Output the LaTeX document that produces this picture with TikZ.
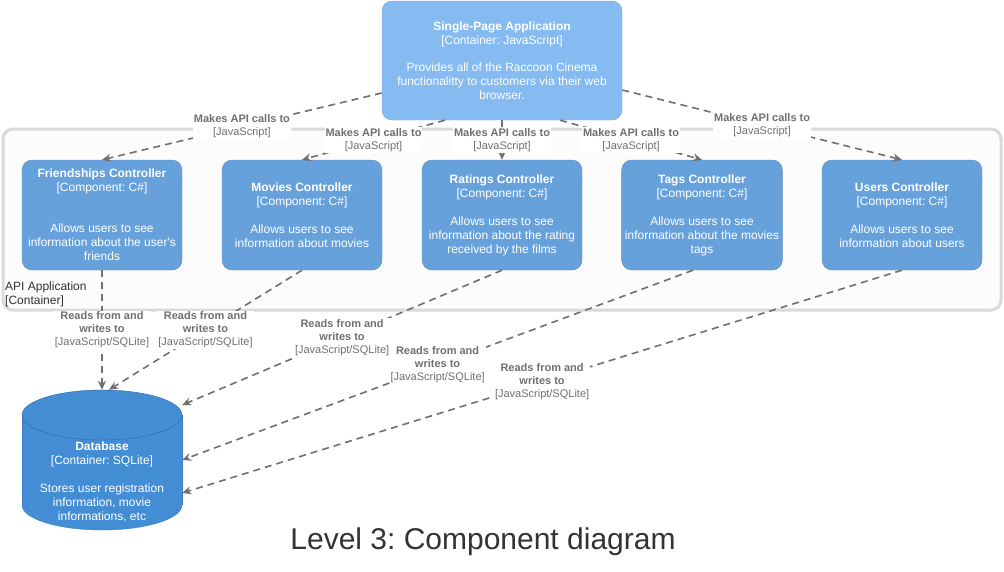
\documentclass[tikz,border=0pt]{standalone}
\usepackage{fontspec}
\setmainfont{Liberation Sans}
\usetikzlibrary{arrows.meta}
\frenchspacing
\definecolor{spafill}{HTML}{85BBF0}
\definecolor{spaline}{HTML}{78A8D8}
\definecolor{compfill}{HTML}{67A1DB}
\definecolor{compline}{HTML}{5A90C8}
\definecolor{dbfill}{HTML}{438DD5}
\definecolor{dbline}{HTML}{3C7FC0}
\definecolor{relgray}{HTML}{707070}
\definecolor{boundgray}{HTML}{DADADA}
\definecolor{titlegray}{HTML}{333333}
\tikzset{
  container/.style={draw=spaline, fill=spafill, rounded corners=10pt, text=white, align=center,
    minimum width=240pt, minimum height=119pt, font=\fontsize{12}{14}\selectfont},
  component/.style={draw=compline, fill=compfill, rounded corners=10pt, text=white, align=center,
    minimum width=160pt, minimum height=110pt, font=\fontsize{12}{14}\selectfont},
  rel/.style={draw=relgray, line width=1.6pt, dash pattern=on 7pt off 5pt,
    -{Stealth[length=9pt,width=8pt]}},
  rellabel/.style={fill=white, text=relgray, align=center, inner sep=1pt,
    font=\fontsize{11}{13}\selectfont},
}
\begin{document}
\begin{tikzpicture}[x=1pt,y=-1pt]
  \fill[white] (0,0) rectangle (1004,571);
  \useasboundingbox (0,0) rectangle (1004,571);

  %API APPLICATION BOUNDARY
  \node (api) at (502,219.5) [draw=boundgray, fill=white!98!gray, line width=3pt, rounded corners=10pt,
    minimum width=998pt, minimum height=181pt] {};
  \node (apilabel) at (5,282) [anchor=north west, align=left, inner sep=0pt, text=titlegray,
    font=\fontsize{12}{14}\selectfont] {API Application\\{[Container]}};

  %SINGLE-PAGE APPLICATION
  \node (spa) at (502,60.5) [container] {{\bfseries Single-Page Application}\\{[Container: JavaScript]}\\[13pt]
    Provides all of the Raccoon Cinema\\functionalitty to customers via their web\\browser.};

  %COMPONENTS
  \node (friend) at (102,215) [component] {{\bfseries Friendships Controller}\\{[Component: C\#]}\\[27pt]
    Allows users to see\\information about the user\textquotesingle s\\friends};
  \node (movies) at (302,215) [component] {{\bfseries Movies Controller}\\{[Component: C\#]}\\[14pt]
    Allows users to see\\information about movies};
  \node (ratings) at (502,215) [component] {{\bfseries Ratings Controller}\\{[Component: C\#]}\\[14pt]
    Allows users to see\\information about the rating\\received by the films};
  \node (tags) at (702,215) [component] {{\bfseries Tags Controller}\\{[Component: C\#]}\\[14pt]
    Allows users to see\\information about the movies\\tags};
  \node (users) at (902,215) [component] {{\bfseries Users Controller}\\{[Component: C\#]}\\[14pt]
    Allows users to see\\information about users};

  %DATABASE
  \filldraw[fill=dbfill, draw=dbline] (102,505) ellipse (80 and 25);
  \fill[dbfill] (22,415) rectangle (182,505);
  \draw[dbline] (22,415) -- (22,505);
  \draw[dbline] (182,415) -- (182,505);
  \filldraw[fill=dbfill, draw=dbline!80!black] (102,415) ellipse (80 and 25);
  \node (db) at (102,460) [minimum width=160pt, minimum height=140pt, inner sep=0pt] {};
  \node (dblabel) at (102,482) [text=white, align=center, font=\fontsize{12}{14}\selectfont]
    {{\bfseries Database}\\{[Container: SQLite]}\\[14pt]Stores user registration\\information, movie\\informations, etc};

  %API CALLS
  \draw[rel] ([yshift=-32.5pt]spa.west) -- node[rellabel] {\textbf{Makes API calls to}\\{[JavaScript]}} (friend.north);
  \draw[rel] ([xshift=-57pt]spa.south) -- node[rellabel] {\textbf{Makes API calls to}\\{[JavaScript]}} (movies.north);
  \draw[rel] (spa.south) -- node[rellabel] {\textbf{Makes API calls to}\\{[JavaScript]}} (ratings.north);
  \draw[rel] ([xshift=58pt]spa.south) -- node[rellabel] {\textbf{Makes API calls to}\\{[JavaScript]}} (tags.north);
  \draw[rel] ([yshift=-29.5pt]spa.east) -- node[rellabel] {\textbf{Makes API calls to}\\{[JavaScript]}} (users.north);

  %READS AND WRITES
  \draw[rel] (friend.south) -- node[rellabel] {\textbf{Reads from and}\\\textbf{writes to}\\{[JavaScript/SQLite]}} (db.north);
  \draw[rel] (movies.south) -- node[rellabel] {\textbf{Reads from and}\\\textbf{writes to}\\{[JavaScript/SQLite]}} ([xshift=7pt]db.north);
  \draw[rel] (ratings.south) -- node[rellabel] {\textbf{Reads from and}\\\textbf{writes to}\\{[JavaScript/SQLite]}} ([yshift=55pt]db.east);
  \draw[rel] ([xshift=-9pt]tags.south) -- node[rellabel] {\textbf{Reads from and}\\\textbf{writes to}\\{[JavaScript/SQLite]}} (db.east);
  \draw[rel] (users.south) -- node[rellabel] {\textbf{Reads from and}\\\textbf{writes to}\\{[JavaScript/SQLite]}} ([yshift=-33pt]db.east);

  %TITLE
  \node (title) at (483,549) [anchor=base, text=titlegray, font=\fontsize{30}{36}\selectfont] {Level 3: Component diagram};
\end{tikzpicture}
\end{document}
